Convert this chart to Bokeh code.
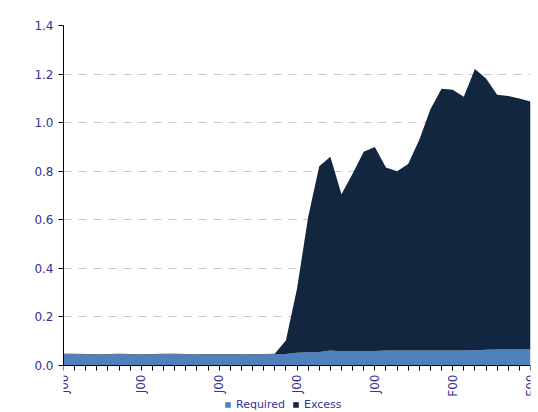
from math import pi
from bokeh.plotting import figure
from bokeh.models import FixedTicker, Range1d, Legend, LegendItem
from bokeh.embed import file_html
from bokeh.resources import INLINE

# ---- data ----
periods = list(range(43))
tick_labels = {0: "J00", 7: "J00", 14: "J00", 21: "J00", 28: "J00", 35: "F00", 42: "F00"}
required = [0.046, 0.046, 0.045, 0.044, 0.045, 0.046, 0.045, 0.044, 0.045, 0.046,
            0.046, 0.045, 0.044, 0.045, 0.045, 0.045, 0.044, 0.045, 0.045, 0.046,
            0.047, 0.052, 0.055, 0.056, 0.062, 0.059, 0.059, 0.059, 0.060, 0.062,
            0.062, 0.062, 0.062, 0.062, 0.062, 0.062, 0.062, 0.063, 0.065, 0.066,
            0.066, 0.066, 0.066]
excess = [0.002, 0.002, 0.002, 0.002, 0.002, 0.002, 0.002, 0.002, 0.002, 0.002,
          0.002, 0.002, 0.002, 0.002, 0.002, 0.002, 0.002, 0.002, 0.002, 0.002,
          0.056, 0.264, 0.555, 0.764, 0.798, 0.646, 0.731, 0.821, 0.840, 0.753,
          0.738, 0.768, 0.868, 0.993, 1.078, 1.073, 1.045, 1.158, 1.117, 1.049,
          1.044, 1.033, 1.021]
y_ticks = [0, 0.2, 0.4, 0.6, 0.8, 1.0, 1.2, 1.4]
series_names = ["Required", "Excess"]
colors = ["#4F81BD", "#13263F"]

src = dict(x=periods, Required=required, Excess=excess)

# frame extends below zero so the axis labels and legend sit inside it
y_top = 1.4
y_bottom = y_top - 387 * 1.4 / 340

p = figure(frame_width=467, frame_height=387, output_backend="svg", toolbar_location=None,
           x_range=Range1d(0, 42), y_range=Range1d(y_bottom, y_top),
           min_border_left=63, min_border_right=8, min_border_top=25, min_border_bottom=0)
p.outline_line_color = None

rs = p.varea_stack(stackers=series_names, x="x", color=colors, source=src)

label_color = "#333399"
font = "DejaVu Sans"

p.yaxis.ticker = FixedTicker(ticks=y_ticks)
p.yaxis.bounds = (0, 1.4)
p.yaxis.major_label_overrides = {t: f"{t:.1f}" for t in y_ticks}
p.yaxis.major_label_text_color = label_color
p.yaxis.major_label_text_font = font
p.yaxis.major_label_text_font_size = "12px"
p.yaxis.major_tick_in = 0
p.yaxis.major_tick_out = 5
p.yaxis.minor_tick_line_color = None
p.yaxis.axis_line_color = "black"
p.yaxis.major_tick_line_color = "black"

p.xaxis.fixed_location = 0
p.xaxis.ticker = FixedTicker(ticks=periods)
p.xaxis.major_label_overrides = {i: tick_labels.get(i, "") for i in periods}
p.xaxis.major_label_orientation = pi / 2
p.xaxis.major_label_text_color = label_color
p.xaxis.major_label_text_font = font
p.xaxis.major_label_text_font_size = "12px"
p.xaxis.major_tick_in = 0
p.xaxis.major_tick_out = 5
p.xaxis.minor_tick_line_color = None
p.xaxis.axis_line_color = "black"
p.xaxis.major_tick_line_color = "black"
p.xaxis.major_label_standoff = 4

p.xgrid.grid_line_color = None
p.ygrid.grid_line_color = "#c8c8c8"
p.ygrid.grid_line_dash = "8 7"

legend = Legend(items=[LegendItem(label=n, renderers=[r]) for n, r in zip(series_names, rs)],
                orientation="horizontal", border_line_color=None, background_fill_alpha=0,
                label_text_font=font, label_text_font_size="11px", label_text_color=label_color,
                glyph_width=7, glyph_height=7, spacing=7, padding=0, margin=0,
                label_height=11, label_standoff=5, location=(161, 1))
p.add_layout(legend, "center")

open("out.html", "w").write(file_html(p, INLINE))
